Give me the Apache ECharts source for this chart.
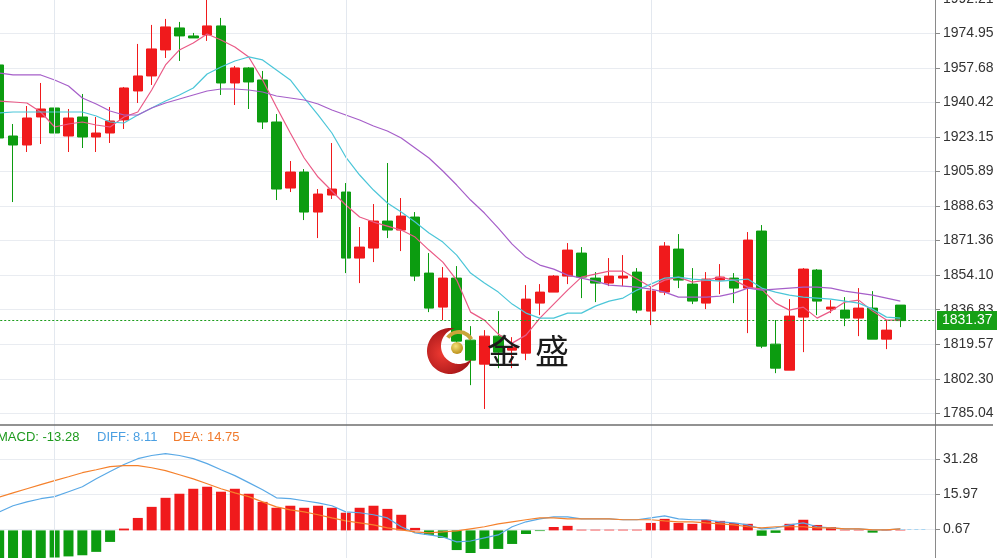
<!DOCTYPE html>
<html>
<head>
<meta charset="utf-8">
<script src="https://cdn.jsdelivr.net/npm/echarts@6/dist/echarts.min.js"></script>
<style>html,body{margin:0;padding:0;background:#fff;overflow:hidden}#c{width:997px;height:558px}</style>
</head>
<body>
<div id="c"></div>
<script>
// ---- data ----
const categories = Array.from({length: 68}, (_, i) => 'K' + (i + 1));
const open  = [1959.1,1923.6,1919.1,1933.1,1937.6,1923.6,1933.1,1923.1,1925.1,1931.6,1946.1,1953.6,1966.6,1977.6,1973.6,1974.1,1978.6,1950.1,1957.6,1951.6,1930.6,1897.6,1905.6,1885.6,1894.1,1895.6,1862.6,1867.6,1881.1,1876.6,1883.1,1855.1,1838.1,1852.6,1821.6,1809.6,1823.6,1816.6,1815.1,1840.1,1845.6,1853.6,1865.1,1852.6,1850.1,1852.6,1855.6,1836.1,1845.6,1867.1,1849.6,1840.1,1851.6,1852.6,1847.6,1876.1,1819.6,1806.6,1833.1,1856.6,1837.1,1836.6,1832.6,1837.6,1822.1,1839.1];
const close = [1922.6,1919.1,1932.6,1937.1,1925.1,1932.6,1923.1,1925.1,1931.1,1947.6,1953.6,1967.1,1978.1,1973.6,1972.6,1978.6,1950.1,1957.6,1950.6,1930.6,1897.1,1905.6,1885.6,1894.6,1897.1,1862.6,1868.1,1881.1,1876.6,1883.6,1853.6,1837.6,1852.6,1821.1,1811.6,1823.6,1815.6,1818.1,1842.1,1845.6,1853.6,1866.6,1853.1,1850.1,1853.6,1853.6,1836.6,1846.1,1868.6,1851.6,1841.1,1852.1,1853.1,1847.6,1871.6,1818.6,1807.6,1833.6,1857.1,1841.1,1838.1,1832.6,1837.6,1822.1,1826.6,1831.37];
const low   = [1921.0,1890.6,1915.6,1919.6,1917.6,1915.6,1917.6,1915.6,1920.1,1927.1,1940.1,1949.1,1962.6,1961.1,1972.6,1971.1,1944.1,1939.1,1937.1,1927.1,1891.6,1895.6,1881.6,1872.6,1892.1,1855.1,1850.1,1860.6,1872.6,1866.1,1851.1,1835.6,1831.6,1819.1,1799.1,1787.2,1807.6,1807.6,1811.6,1834.1,1845.6,1849.6,1842.6,1840.6,1848.6,1848.6,1835.1,1829.1,1844.1,1847.6,1839.6,1837.1,1844.6,1840.1,1825.1,1817.6,1805.1,1806.6,1815.6,1834.1,1835.1,1828.6,1823.6,1822.1,1817.1,1828.1];
const high  = [1960.5,1929.6,1938.6,1950.1,1939.6,1937.1,1944.6,1933.1,1938.1,1948.1,1969.6,1979.1,1982.1,1980.6,1975.1,1993.0,1982.6,1958.6,1958.0,1956.1,1934.6,1911.1,1907.1,1897.1,1920.1,1900.1,1878.1,1889.6,1910.1,1892.6,1885.6,1865.1,1858.1,1858.6,1828.6,1826.6,1836.1,1823.1,1849.1,1849.6,1854.1,1870.1,1868.1,1855.6,1862.6,1864.1,1857.6,1848.1,1870.6,1874.6,1857.6,1855.6,1859.6,1855.1,1875.6,1879.1,1831.6,1842.1,1857.6,1857.1,1841.6,1843.1,1847.6,1846.1,1831.6,1839.1];
const ma5   = [1941.1,1940.6,1940.1,1935.6,1928.1,1929.6,1930.6,1929.1,1928.1,1933.1,1935.6,1946.6,1959.1,1966.6,1970.1,1974.6,1971.6,1968.1,1963.1,1951.6,1938.1,1925.1,1912.6,1903.1,1896.1,1889.1,1883.1,1880.6,1878.6,1876.6,1873.1,1866.6,1860.6,1851.6,1835.6,1831.6,1824.6,1820.1,1824.1,1832.6,1839.6,1846.6,1853.1,1854.6,1856.1,1856.1,1852.1,1848.1,1851.6,1853.1,1850.6,1851.6,1853.1,1851.6,1848.1,1847.1,1840.1,1836.6,1838.1,1832.6,1836.1,1840.6,1841.6,1836.1,1831.6,1831.6];
const ma10  = [1935.1,1935.6,1935.6,1935.6,1935.6,1935.6,1935.6,1933.6,1930.6,1930.1,1934.1,1937.6,1941.1,1944.1,1947.6,1954.6,1958.1,1961.1,1963.1,1961.6,1956.6,1951.6,1942.6,1934.1,1925.1,1913.1,1904.1,1896.6,1890.1,1885.6,1880.6,1875.1,1870.6,1864.1,1855.1,1850.1,1845.6,1839.6,1835.1,1832.6,1832.6,1835.1,1835.1,1838.6,1841.1,1842.6,1846.6,1849.6,1852.6,1853.1,1852.1,1851.6,1851.1,1851.6,1852.1,1847.6,1845.6,1844.1,1843.1,1842.6,1842.1,1841.1,1840.1,1837.1,1833.1,1832.6];
const ma20  = [1955.1,1954.1,1954.1,1954.1,1951.6,1948.6,1942.6,1939.6,1936.1,1934.1,1934.1,1937.6,1940.1,1942.1,1944.1,1946.1,1947.1,1947.1,1946.6,1945.6,1943.6,1942.6,1941.6,1939.6,1936.6,1934.1,1931.6,1928.6,1926.1,1922.6,1917.6,1912.6,1906.1,1899.1,1891.6,1885.1,1877.6,1869.6,1863.1,1859.1,1857.1,1854.1,1852.6,1851.1,1849.1,1848.6,1848.1,1847.1,1845.6,1843.1,1843.1,1843.1,1843.6,1845.1,1847.6,1846.6,1847.1,1847.6,1848.1,1848.1,1847.6,1846.1,1845.1,1844.1,1842.6,1841.1];
const macd  = [-13.28,-13.0,-12.6,-12.4,-12.0,-11.5,-11.0,-9.5,-5.1,0.8,5.5,10.4,14.4,16.2,18.4,19.3,17.1,18.4,16.2,12.6,10.0,10.9,10.0,10.9,10.0,7.8,10.0,10.9,9.5,6.9,1.1,-2.0,-3.3,-8.7,-10.0,-8.2,-8.2,-6.0,-1.6,-0.3,1.5,2.0,0.3,0.3,0.3,0.3,0.3,3.3,5.1,3.3,2.9,4.7,4.2,3.3,2.9,-2.4,-1.1,2.9,4.7,2.4,1.5,0.3,0.3,-1.0,0.3,0.3];
const diff  = [8.11,10.9,12.6,14.0,14.9,17.1,19.3,22.8,26.0,29.1,31.7,33.1,33.9,33.1,31.7,29.5,26.8,24.2,21.1,18.0,14.4,14.0,13.1,12.2,10.9,8.2,7.8,6.9,5.5,1.6,-1.1,-2.0,-2.9,-5.1,-4.7,-3.3,-2.0,1.6,3.8,5.1,6.0,6.0,5.1,5.1,5.1,4.7,4.7,5.5,6.4,5.1,4.7,4.7,3.8,3.3,2.4,0.7,1.1,2.4,3.3,1.6,1.1,0.7,0.7,0.2,0.2,0.7];
const dea   = [14.75,16.6,18.4,20.2,22.0,23.7,25.5,26.8,28.2,28.6,28.6,27.7,26.4,24.6,22.8,20.6,18.4,16.6,14.9,12.6,10.4,9.1,8.2,6.9,5.5,4.2,3.3,2.4,1.1,0.2,-0.7,-1.1,-0.7,-0.2,0.7,1.6,2.9,3.8,4.7,5.5,5.5,5.1,5.1,5.1,5.1,4.7,4.7,4.7,4.2,3.8,3.8,3.3,2.9,2.4,1.6,1.1,1.6,1.6,1.6,1.1,1.1,0.7,0.7,0.2,0.2,0.7];
const priceTicks = [1785.04,1802.30,1819.57,1836.83,1854.10,1871.36,1888.63,1905.89,1923.15,1940.42,1957.68,1974.95,1992.21];
const macdTicks  = [0.67,15.97,31.28];
const dividerIdx = [4,25,47];

// ---- chart ----
const RED = '#f01a1c', GREEN = '#0c9c10';
const FONT = '"Liberation Sans", Arial, sans-serif';
const kData = open.map((o, i) => [o, close[i], low[i], high[i]]);
const lastPrice = close[close.length - 1];
const lastIdx = close.length - 1;

// crescent logo outline
function crescent() {
  const pts = [];
  const c1 = [450, 351], r1 = 23, c2 = [459, 346], r2 = 18;
  for (let a = -78; a >= -340; a -= 4) {
    const t = a * Math.PI / 180; pts.push([c1[0] + r1 * Math.cos(t), c1[1] + r1 * Math.sin(t)]);
  }
  for (let a = 45.7; a <= 256.5; a += 4) {
    const t = a * Math.PI / 180; pts.push([c2[0] + r2 * Math.cos(t), c2[1] + r2 * Math.sin(t)]);
  }
  return pts;
}

const chart = echarts.init(document.getElementById('c'));
const axisCommon = {
  type: 'category', data: categories, boundaryGap: true,
  axisLine: {show: false}, axisTick: {show: false}, axisLabel: {show: false}, splitLine: {show: false}
};
const option = {
  animation: false,
  backgroundColor: '#ffffff',
  grid: [
    {left: -7.76, right: 62, top: -1.3, height: 426.3, outerBoundsMode: 'none', containLabel: false},
    {left: -7.76, right: 62, top: 425, height: 138.5, outerBoundsMode: 'none', containLabel: false}
  ],
  xAxis: [Object.assign({gridIndex: 0}, axisCommon), Object.assign({gridIndex: 1}, axisCommon)],
  yAxis: [
    {
      gridIndex: 0, type: 'value', position: 'right', min: 1779.19, max: 1992.21,
      axisLine: {show: true, lineStyle: {color: '#8a8a8a', width: 1}},
      axisTick: {show: true, length: 5, customValues: priceTicks, lineStyle: {color: '#8a8a8a'}},
      axisLabel: {customValues: priceTicks, formatter: v => v.toFixed(2), color: '#333', fontSize: 14, fontFamily: FONT, margin: 8},
      splitLine: {show: true, lineStyle: {color: '#e9ecf1', width: 1}}
    },
    {
      gridIndex: 1, type: 'value', position: 'right', min: -14.64, max: 46.59,
      axisLine: {show: true, lineStyle: {color: '#8a8a8a', width: 1}},
      axisTick: {show: true, length: 5, customValues: macdTicks, lineStyle: {color: '#8a8a8a'}},
      axisLabel: {customValues: macdTicks, formatter: v => v.toFixed(2), color: '#333', fontSize: 14, fontFamily: FONT, margin: 8},
      splitLine: {show: true, lineStyle: {color: '#e9ecf1', width: 1}}
    }
  ],
  series: [
    {
      name: 'dividers', type: 'line', xAxisIndex: 0, yAxisIndex: 0, data: [], z: 1, silent: true,
      markLine: {symbol: 'none', silent: true, label: {show: false}, lineStyle: {color: '#e3e8ef', type: 'solid', width: 1},
        data: dividerIdx.map(i => ({xAxis: i}))}
    },
    {
      name: 'dividers2', type: 'line', xAxisIndex: 1, yAxisIndex: 1, data: [], z: 1, silent: true,
      markLine: {symbol: 'none', silent: true, label: {show: false}, lineStyle: {color: '#e3e8ef', type: 'solid', width: 1},
        data: dividerIdx.map(i => ({xAxis: i}))}
    },
    {
      name: 'K', type: 'candlestick', xAxisIndex: 0, yAxisIndex: 0, data: kData, barWidth: 10, z: 3,
      itemStyle: {color: RED, color0: GREEN, borderColor: RED, borderColor0: GREEN, borderWidth: 1},
      markLine: {
        symbol: 'none', silent: true, data: [{yAxis: lastPrice}],
        lineStyle: {color: '#1a9c1a', type: [2, 2], width: 1},
        label: {show: true, position: 'end', distance: 2, formatter: p => Number(p.value).toFixed(2),
          color: '#fff', backgroundColor: '#16a016', fontSize: 14, fontFamily: FONT, padding: [3, 6, 2, 5]}
      }
    },
    {name: 'MA5', type: 'line', xAxisIndex: 0, yAxisIndex: 0, data: ma5, showSymbol: false, z: 4, lineStyle: {color: '#ea5a86', width: 1.2}},
    {name: 'MA10', type: 'line', xAxisIndex: 0, yAxisIndex: 0, data: ma10, showSymbol: false, z: 4, lineStyle: {color: '#4cc6d8', width: 1.2}},
    {name: 'MA20', type: 'line', xAxisIndex: 0, yAxisIndex: 0, data: ma20, showSymbol: false, z: 4, lineStyle: {color: '#a65fc9', width: 1.2}},
    {
      name: 'MACD', type: 'bar', xAxisIndex: 1, yAxisIndex: 1, barWidth: 10, z: 3,
      data: macd.map(v => ({value: v, itemStyle: {color: v >= 0 ? RED : GREEN}}))
    },
    {
      name: 'DIFF', type: 'line', xAxisIndex: 1, yAxisIndex: 1, data: diff, showSymbol: false, z: 4,
      lineStyle: {color: '#5aa9e6', width: 1.2},
      markLine: {symbol: 'none', silent: true, label: {show: false}, lineStyle: {color: '#a9d6f2', type: [4, 3], width: 1},
        data: [[{coord: [lastIdx, diff[lastIdx]]}, {coord: [categories.length - 1, diff[lastIdx]]}]]}
    },
    {name: 'DEA', type: 'line', xAxisIndex: 1, yAxisIndex: 1, data: dea, showSymbol: false, z: 4, lineStyle: {color: '#f5812c', width: 1.2}}
  ],
  graphic: [
    {type: 'line', z: 50, shape: {x1: 0, y1: 425, x2: 993, y2: 425}, style: {stroke: '#6e6e6e', lineWidth: 1.5}},
    {type: 'text', z: 50, x: -3, y: 437, style: {text: 'MACD: ' + macd[0].toFixed(2), fill: '#1e9a1e', font: '13px ' + FONT, verticalAlign: 'middle'}},
    {type: 'text', z: 50, x: 97, y: 437, style: {text: 'DIFF: ' + diff[0].toFixed(2), fill: '#4a9fe2', font: '13px ' + FONT, verticalAlign: 'middle'}},
    {type: 'text', z: 50, x: 173, y: 437, style: {text: 'DEA: ' + dea[0].toFixed(2), fill: '#f07a2c', font: '13px ' + FONT, verticalAlign: 'middle'}},
    {type: 'polygon', z: 60, shape: {points: crescent()},
      style: {fill: {type: 'radial', x: 0.35, y: 0.55, r: 0.8, colorStops: [{offset: 0, color: '#ef3a32'}, {offset: 1, color: '#8c0a10'}]}}},
    {type: 'arc', z: 60, shape: {cx: 459, cy: 346, r: 14, startAngle: -2.5, endAngle: -0.5}, style: {stroke: '#c9a53a', lineWidth: 4, fill: null}},
    {type: 'circle', z: 61, shape: {cx: 457, cy: 348, r: 6},
      style: {fill: {type: 'radial', x: 0.4, y: 0.35, r: 0.7, colorStops: [{offset: 0, color: '#f6e27a'}, {offset: 1, color: '#b88a12'}]}}},
    {type: 'text', z: 60, x: 487, y: 351, style: {text: '金', fill: '#1b1b1b', font: '34px "Noto Sans CJK SC"', verticalAlign: 'middle'}},
    {type: 'text', z: 60, x: 535, y: 351, style: {text: '盛', fill: '#1b1b1b', font: '34px "Noto Sans CJK SC"', verticalAlign: 'middle'}}
  ]
};
chart.setOption(option);
</script>
</body>
</html>
